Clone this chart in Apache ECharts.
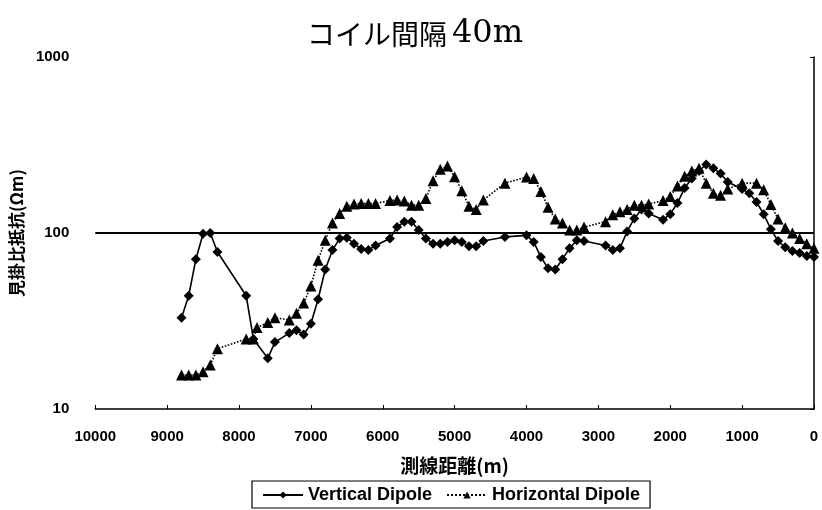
<!DOCTYPE html>
<html>
<head>
<meta charset="utf-8">
<script src="https://cdn.jsdelivr.net/npm/echarts@6/dist/echarts.min.js"></script>
<style>
  html, body { margin: 0; padding: 0; background: #fff; }
  #chart { width: 822px; height: 510px; }
</style>
</head>
<body>
<div id="chart"></div>
<script>
// Survey line distance (m) and apparent resistivity (Ωm), coil spacing 40 m
const vertDist = [8800, 8700, 8600, 8500, 8400, 8300, 7900, 7800, 7600, 7500, 7300, 7200, 7100, 7000, 6900, 6800, 6700, 6600, 6500, 6400, 6300, 6200, 6100, 5900, 5800, 5700, 5600, 5500, 5400, 5300, 5200, 5100, 5000, 4900, 4800, 4700, 4600, 4300, 4000, 3900, 3800, 3700, 3600, 3500, 3400, 3300, 3200, 2900, 2800, 2700, 2600, 2500, 2400, 2300, 2100, 2000, 1900, 1800, 1700, 1600, 1500, 1400, 1300, 1200, 1000, 900, 800, 700, 600, 500, 400, 300, 200, 100, 0];
const vertRho  = [33, 44, 71, 99, 100, 78, 44, 25, 19.4, 24, 27, 28, 26.5, 30.5, 42, 62, 80, 93, 94, 87, 81, 80, 85, 93, 108, 116, 116, 104, 93, 87, 87, 89, 91, 89, 84, 84, 90, 95, 97, 89, 73, 63, 62, 71, 82, 91, 90, 85, 80, 82, 102, 121, 136, 129, 119, 128, 148, 180, 204, 225, 245, 233, 218, 195, 178, 168, 150, 128, 105, 90, 83, 79, 77, 74, 73];

const horzDist = [8800, 8700, 8600, 8500, 8400, 8300, 7900, 7800, 7750, 7600, 7500, 7300, 7200, 7100, 7000, 6900, 6800, 6700, 6600, 6500, 6400, 6300, 6200, 6100, 5900, 5800, 5700, 5600, 5500, 5400, 5300, 5200, 5100, 5000, 4900, 4800, 4700, 4600, 4300, 4000, 3900, 3800, 3700, 3600, 3500, 3400, 3300, 3200, 2900, 2800, 2700, 2600, 2500, 2400, 2300, 2100, 2000, 1900, 1800, 1700, 1600, 1500, 1400, 1300, 1200, 1000, 800, 700, 600, 500, 400, 300, 200, 100, 0];
const horzRho  = [15.6, 15.6, 15.6, 16.3, 17.8, 22, 25, 25, 29, 31, 33, 32, 35, 40, 50, 70, 91, 114, 129, 142, 146, 147, 147, 147, 153, 154, 152, 144, 144, 157, 198, 230, 240, 209, 174, 142, 136, 154, 192, 208, 204, 172, 140, 120, 114, 104, 104, 108, 116, 127, 132, 136, 144, 144, 146, 153, 161, 185, 210, 225, 233, 192, 168, 164, 178, 192, 192, 176, 145, 120, 107, 100, 93, 87, 82];

const xTicks = { min: 0, max: 10000, step: 1000 };
const yRange = { min: 10, max: 1000 };
const refLevel = 100;

const pairs = (xs, ys) => xs.map((x, i) => [x, ys[i]]);
const plain = v => String(Math.round(v));

const labelFont = { fontFamily: 'Liberation Sans, Arial, sans-serif', fontWeight: 'bold', fontSize: 15, color: '#000' };
const jpFont = 'Noto Sans CJK JP, sans-serif';

const chart = echarts.init(document.getElementById('chart'), null, { renderer: 'canvas' });
chart.setOption({
  backgroundColor: '#fff',
  animation: false,
  title: {
    text: '{a|コイル間隔} {b|40m}',
    left: 302,
    top: 13,
    textStyle: {
      rich: {
        a: { fontFamily: 'Noto Sans CJK JP, sans-serif', fontWeight: 'normal', fontSize: 28, color: '#000' },
        b: { fontFamily: 'DejaVu Serif, serif', fontWeight: 'normal', fontSize: 32, color: '#000' }
      }
    }
  },
  grid: { left: 92, right: 8, top: 57, bottom: 101 },
  xAxis: {
    type: 'value',
    inverse: true,
    min: xTicks.min,
    max: xTicks.max,
    interval: xTicks.step,
    name: '測線距離(m)',
    nameLocation: 'middle',
    nameGap: 47,
    nameTextStyle: { fontFamily: jpFont, fontWeight: 'bold', fontSize: 19, color: '#000' },
    axisLine: { show: true, onZero: false, lineStyle: { color: '#000', width: 1.5 } },
    axisTick: { show: true, inside: true, length: 4, lineStyle: { color: '#000', width: 1 } },
    axisLabel: Object.assign({ margin: 20, formatter: plain }, labelFont),
    splitLine: { show: false }
  },
  yAxis: [
    {
      type: 'log',
      logBase: 10,
      min: yRange.min,
      max: yRange.max,
      position: 'left',
      name: '見掛比抵抗(Ωm)',
      nameLocation: 'middle',
      nameGap: 60,
      nameRotate: 90,
      nameTextStyle: { fontFamily: jpFont, fontWeight: 'bold', fontSize: 17, color: '#000' },
      axisLine: { show: false },
      axisTick: { show: false },
      axisLabel: Object.assign({ margin: 26, formatter: plain }, labelFont),
      splitLine: { show: false },
      minorSplitLine: { show: false }
    },
    {
      type: 'log',
      logBase: 10,
      min: yRange.min,
      max: yRange.max,
      position: 'right',
      axisLine: { show: true, lineStyle: { color: '#000', width: 1.5 } },
      axisTick: { show: true, inside: true, length: 4, lineStyle: { color: '#000' } },
      axisLabel: { show: false },
      splitLine: { show: false }
    }
  ],
  legend: {
    bottom: 2,
    left: 252,
    orient: 'horizontal',
    borderColor: '#000',
    borderWidth: 1.2,
    padding: [5, 10, 4, 10],
    itemGap: 14,
    itemWidth: 40,
    itemHeight: 9,
    textStyle: { fontFamily: 'Liberation Sans, Arial, sans-serif', fontWeight: 'bold', fontSize: 18, color: '#000' },
    data: ['Vertical Dipole', 'Horizontal Dipole']
  },
  series: [
    {
      name: 'Vertical Dipole',
      type: 'line',
      data: pairs(vertDist, vertRho),
      symbol: 'diamond',
      symbolSize: 10,
      itemStyle: { color: '#000' },
      lineStyle: { color: '#000', width: 1.6, type: 'solid' },
      z: 3,
      markLine: {
        silent: true,
        symbol: 'none',
        label: { show: false },
        lineStyle: { color: '#000', width: 2, type: 'solid' },
        data: [{ yAxis: refLevel }]
      }
    },
    {
      name: 'Horizontal Dipole',
      type: 'line',
      data: pairs(horzDist, horzRho),
      symbol: 'triangle',
      symbolSize: 11,
      itemStyle: { color: '#000' },
      lineStyle: { color: '#000', width: 1.6, type: 'dotted' },
      z: 4
    }
  ]
});
</script>
</body>
</html>
